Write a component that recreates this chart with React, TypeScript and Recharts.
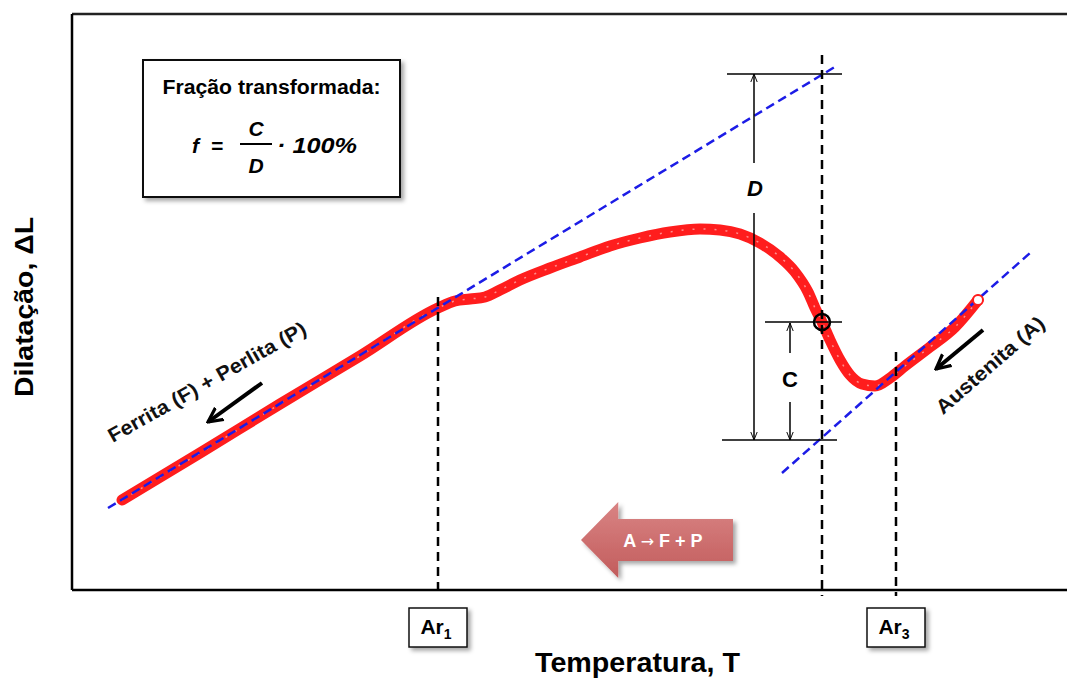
import {
  ComposedChart,
  Line,
  XAxis,
  YAxis,
  ReferenceLine,
  ReferenceArea,
  ReferenceDot,
} from 'recharts'

// cooling dilatometry curve (arbitrary units: temperature -> dilatation)
const temperature = [50, 128, 208, 288, 366, 383, 398, 413, 428, 448, 478, 508, 538, 568, 598, 628, 648, 668, 688, 708, 723, 736, 743, 750, 758, 768, 778, 790, 803, 818, 833, 858, 883, 906]
const dilatation = [90, 137, 186, 234, 282, 289, 291, 293, 300, 310, 322, 333, 344, 352, 358, 361, 360, 356, 347, 333, 318, 298, 282, 268, 250, 230, 215, 206, 204, 212, 224, 243, 263, 290]

// linear fits of the ferrite+pearlite and austenite branches
const ferriteFitT = [36, 766]
const ferriteFitL = [82, 525]
const austeniteFitT = [710, 958]
const austeniteFitL = [117, 337]

// critical temperatures on the axis
const criticalT = [366, 824]
const criticalSub = ['1', '3']
const criticalTop = [293, 238]

// lever-rule measurement
const measureT = 750
const measureTop = 535
const dLevels = [516, 150]
const dArrowT = 682
const cArrowT = 718

const T_MAX = 995
const L_MAX = 576
const FONT = '"Liberation Sans", Arial, sans-serif'

const curve = temperature.map((t, i) => ({ t, l: dilatation[i] }))
const ferriteFit = ferriteFitT.map((t, i) => ({ t, l: ferriteFitL[i] }))
const austeniteFit = austeniteFitT.map((t, i) => ({ t, l: austeniteFitL[i] }))
const measureL = dilatation[temperature.indexOf(measureT)]
const lastPoint = curve[curve.length - 1]

const arrowLine = (marker: string) => (p: any) => (
  <line
    x1={p.x1}
    y1={p.y1}
    x2={p.x2}
    y2={p.y2}
    stroke={p.stroke}
    strokeWidth={p.strokeWidth}
    markerEnd={`url(#${marker})`}
  />
)

function CriticalTick(props: any) {
  const { x, y, index } = props
  return (
    <g>
      <rect x={x - 29} y={y} width={58} height={39} fill="#fff" stroke="#111" strokeWidth={1.5} filter="url(#shadow)" />
      <text x={x - 2} y={y + 26} textAnchor="middle" fontFamily={FONT} fontWeight="bold" fontSize={21} fill="#000">
        Ar<tspan fontSize={14} dy={5}>{criticalSub[index]}</tspan>
      </text>
    </g>
  )
}

function FormulaBox(p: any) {
  const { x, y, width, height } = p
  const italic = { fontFamily: FONT, fontWeight: 'bold' as const, fontStyle: 'italic' as const, fontSize: 21, fill: '#000' }
  return (
    <g>
      <rect x={x} y={y} width={width} height={height} fill="#fff" stroke="#111" strokeWidth={2} filter="url(#shadow)" />
      <text x={x + width / 2} y={y + 34} textAnchor="middle" fontFamily={FONT} fontWeight="bold" fontSize={20} textLength={218} lengthAdjust="spacingAndGlyphs">
        Fração transformada:
      </text>
      <text x={x + 49} y={y + 93} {...italic} textLength={31} lengthAdjust="spacing">f =</text>
      <text x={x + 113} y={y + 76} textAnchor="middle" {...italic}>C</text>
      <line x1={x + 97} x2={x + 129} y1={y + 84} y2={y + 84} stroke="#000" strokeWidth={2} />
      <text x={x + 113} y={y + 113} textAnchor="middle" {...italic}>D</text>
      <text x={x + 134} y={y + 93} {...italic} fontSize={22} textLength={80} lengthAdjust="spacingAndGlyphs">· 100%</text>
    </g>
  )
}

function PhaseArrow(p: any) {
  const { x, y, width, height } = p
  const head = x + width * 0.245
  const top = y + height * 0.224
  const bottom = y + height * 0.776
  const pts = [
    [x, y + height / 2],
    [head, y],
    [head, top],
    [x + width, top],
    [x + width, bottom],
    [head, bottom],
    [head, y + height],
  ].map((q) => q.join(',')).join(' ')
  return (
    <g>
      <polygon points={pts} fill="url(#pinkGrad)" filter="url(#shadow)" />
      <text x={x + 82} y={y + height / 2 + 7} textAnchor="middle" fontFamily={FONT} fontWeight="bold" fontSize={18} fill="#fff">
        A <tspan fontFamily="DejaVu Sans" fontWeight="normal" fontSize={16}>→</tspan> F + P
      </text>
    </g>
  )
}

const rotatedText = (text: string, angle: number, len: number) => (p: any) => (
  <text
    x={p.cx}
    y={p.cy}
    transform={`rotate(${angle} ${p.cx} ${p.cy})`}
    textAnchor="middle"
    dominantBaseline="central"
    fontFamily={FONT}
    fontWeight="bold"
    fontSize={20}
    fill="#111"
    textLength={len}
    lengthAdjust="spacingAndGlyphs"
  >
    {text}
  </text>
)

const letter = (text: string, italic: boolean) => (p: any) => (
  <text x={p.cx} y={p.cy} textAnchor="middle" fontFamily={FONT} fontWeight="bold" fontStyle={italic ? 'italic' : 'normal'} fontSize={22} fill="#000">
    {text}
  </text>
)

export default function App() {
  return (
    <div style={{ position: 'absolute', left: 0, top: 0, width: 1067, height: 678, background: '#fff' }}>
      <ComposedChart width={1067} height={678} margin={{ top: 14, right: 0, bottom: 0, left: 0 }}>
        <defs>
          <filter id="shadow" x="-20%" y="-20%" width="150%" height="150%">
            <feDropShadow dx="3" dy="3" stdDeviation="2" floodColor="#000" floodOpacity="0.35" />
          </filter>
          <linearGradient id="pinkGrad" x1="0" y1="0" x2="0" y2="1">
            <stop offset="0%" stopColor="#d98484" />
            <stop offset="100%" stopColor="#c25c5c" />
          </linearGradient>
          <marker id="thin" viewBox="0 0 10 10" refX="10" refY="5" markerWidth="8" markerHeight="14" markerUnits="userSpaceOnUse" orient="auto">
            <path d="M0,1 L10,5 L0,9" fill="none" stroke="#000" strokeWidth="1.2" />
          </marker>
          <marker id="bold" viewBox="0 0 10 10" refX="9" refY="5" markerWidth="16" markerHeight="20" markerUnits="userSpaceOnUse" orient="auto">
            <path d="M0,0.5 L9,5 L0,9.5" fill="none" stroke="#000" strokeWidth="2" strokeLinejoin="miter" />
          </marker>
        </defs>
        <XAxis
          dataKey="t"
          type="number"
          domain={[0, T_MAX]}
          ticks={criticalT}
          interval={0}
          tick={<CriticalTick />}
          tickLine={false}
          tickSize={6}
          tickMargin={12}
          height={88}
          axisLine={{ stroke: '#000', strokeWidth: 2.5 }}
          allowDataOverflow
          label={{
            content: ({ viewBox }: any) => (
              <text x={viewBox.x + viewBox.width / 2 + 68} y={viewBox.y + 82} textAnchor="middle" fontFamily={FONT} fontWeight="bold" fontSize={28} textLength={205} lengthAdjust="spacingAndGlyphs">
                Temperatura, T
              </text>
            ),
          }}
        />
        <YAxis
          dataKey="l"
          type="number"
          domain={[0, L_MAX]}
          tick={false}
          tickLine={false}
          width={72}
          axisLine={{ stroke: '#000', strokeWidth: 2.5 }}
          allowDataOverflow
          label={{
            content: ({ viewBox }: any) => {
              const cx = 33
              const cy = viewBox.y + viewBox.height / 2 + 5
              return (
                <text x={cx} y={cy} transform={`rotate(-90 ${cx} ${cy})`} textAnchor="middle" fontFamily={FONT} fontWeight="bold" fontSize={25} textLength={180} lengthAdjust="spacingAndGlyphs">
                  Dilatação, ΔL
                </text>
              )
            },
          }}
        />

        <ReferenceLine y={L_MAX} stroke="#222" strokeWidth={2.5} ifOverflow="visible" />

        <ReferenceArea x1={71} x2={328} y1={393} y2={530} ifOverflow="visible" shape={FormulaBox} />
        <ReferenceArea x1={509} x2={661} y1={12} y2={88} ifOverflow="visible" shape={PhaseArrow} />

        <Line data={curve} dataKey="l" type="monotone" stroke="#ff1d1d" strokeWidth={11} strokeLinecap="round" dot={false} isAnimationActive={false} />
        <Line data={curve} dataKey="l" type="monotone" stroke="#ff8c8c" strokeWidth={1.5} strokeDasharray="2 9" dot={false} isAnimationActive={false} />
        <Line data={ferriteFit} dataKey="l" type="linear" stroke="#1c1ce6" strokeWidth={2.5} strokeDasharray="9 5" dot={false} isAnimationActive={false} />
        <Line data={austeniteFit} dataKey="l" type="linear" stroke="#1c1ce6" strokeWidth={2.5} strokeDasharray="9 5" dot={false} isAnimationActive={false} />

        {criticalT.map((t, i) => (
          <ReferenceLine key={t} segment={[{ x: t, y: criticalTop[i] }, { x: t, y: -6 }]} stroke="#000" strokeWidth={2.5} strokeDasharray="9 6" ifOverflow="visible" />
        ))}
        <ReferenceLine segment={[{ x: measureT, y: measureTop }, { x: measureT, y: -6 }]} stroke="#000" strokeWidth={2.5} strokeDasharray="9 6" ifOverflow="visible" />

        <ReferenceLine segment={[{ x: 655, y: dLevels[0] }, { x: 770, y: dLevels[0] }]} stroke="#000" strokeWidth={1.5} />
        <ReferenceLine segment={[{ x: 650, y: dLevels[1] }, { x: 765, y: dLevels[1] }]} stroke="#000" strokeWidth={1.5} />
        <ReferenceLine segment={[{ x: 693, y: measureL }, { x: 770, y: measureL }]} stroke="#000" strokeWidth={1.5} />

        <ReferenceLine segment={[{ x: dArrowT, y: 427 }, { x: dArrowT, y: dLevels[0] }]} stroke="#000" strokeWidth={1.5} shape={arrowLine('thin')} />
        <ReferenceLine segment={[{ x: dArrowT, y: 377 }, { x: dArrowT, y: dLevels[1] }]} stroke="#000" strokeWidth={1.5} shape={arrowLine('thin')} />
        <ReferenceLine segment={[{ x: cArrowT, y: 237 }, { x: cArrowT, y: measureL - 1 }]} stroke="#000" strokeWidth={1.5} shape={arrowLine('thin')} />
        <ReferenceLine segment={[{ x: cArrowT, y: 188 }, { x: cArrowT, y: dLevels[1] }]} stroke="#000" strokeWidth={1.5} shape={arrowLine('thin')} />

        <ReferenceLine segment={[{ x: 190, y: 207 }, { x: 136, y: 168 }]} stroke="#000" strokeWidth={4} shape={arrowLine('bold')} />
        <ReferenceLine segment={[{ x: 911, y: 260 }, { x: 864, y: 221 }]} stroke="#000" strokeWidth={4} shape={arrowLine('bold')} />

        <ReferenceDot x={683} y={394} r={0} shape={letter('D', true)} />
        <ReferenceDot x={718} y={203} r={0} shape={letter('C', false)} />
        <ReferenceDot x={135} y={208} r={0} shape={rotatedText('Ferrita (F) + Perlita (P)', -29.4, 224)} />
        <ReferenceDot x={918} y={225} r={0} shape={rotatedText('Austenita (A)', -41, 137)} />

        <ReferenceDot x={measureT} y={measureL} r={8} fill="none" stroke="#000" strokeWidth={2.5} />
        <ReferenceDot x={lastPoint.t} y={lastPoint.l} r={5} fill="#fff" stroke="#ff1d1d" strokeWidth={2} />
      </ComposedChart>
    </div>
  )
}
